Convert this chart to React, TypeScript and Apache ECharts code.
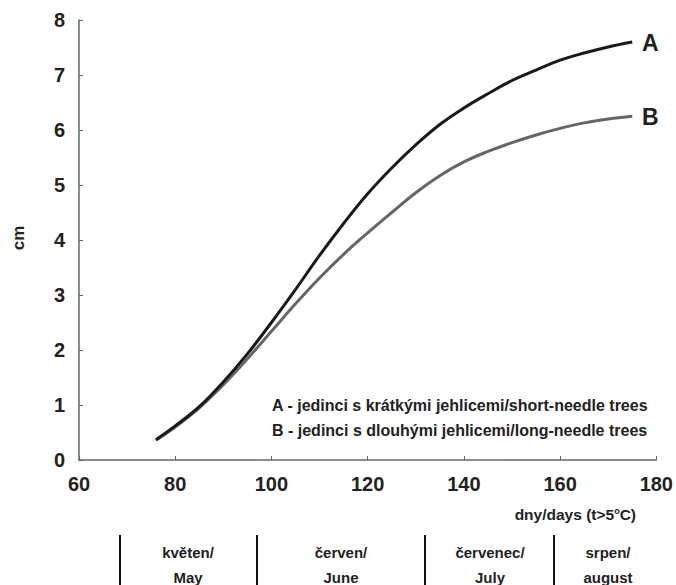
import React, { useEffect, useRef } from "react";
import * as echarts from "echarts";

const days = [76, 80, 85, 90, 95, 100, 105, 110, 115, 120, 125, 130, 135, 140, 145, 150, 155, 160, 165, 170, 175];
const seriesA = [0.37, 0.62, 0.97, 1.42, 1.93, 2.5, 3.1, 3.72, 4.3, 4.84, 5.31, 5.73, 6.1, 6.4, 6.66, 6.9, 7.09, 7.27, 7.4, 7.51, 7.6];
const seriesB = [0.36, 0.6, 0.95, 1.37, 1.84, 2.34, 2.84, 3.31, 3.74, 4.13, 4.5, 4.86, 5.17, 5.42, 5.61, 5.77, 5.91, 6.03, 6.13, 6.2, 6.25];
const legendLines = [
  "A - jedinci s krátkými jehlicemi/short-needle trees",
  "B - jedinci s dlouhými jehlicemi/long-needle trees",
];
const months = [
  ["květen/", "May"],
  ["červen/", "June"],
  ["červenec/", "July"],
  ["srpen/", "august"],
];

const FONT = "Arial";
const txt = (size: number, extra: any = {}) => ({
  fontFamily: FONT,
  fontWeight: "bold",
  fontSize: size,
  fill: "#222",
  ...extra,
});

export default function App() {
  const ref = useRef<HTMLDivElement>(null);
  useEffect(() => {
    if (!ref.current) return;
    const chart = echarts.init(ref.current, undefined, { renderer: "svg" });
    const monthCenters = [188, 341, 490, 608];
    const sepX = [120, 257, 425, 554];
    const graphics: any[] = [];
    sepX.forEach((x) =>
      graphics.push({
        type: "line",
        shape: { x1: x, y1: 535, x2: x, y2: 585 },
        style: { stroke: "#111", lineWidth: 2 },
      })
    );
    months.forEach((m, i) => {
      graphics.push({
        type: "text",
        x: monthCenters[i],
        y: 552,
        style: txt(15, { text: m[0], align: "center", verticalAlign: "middle" }),
      });
      graphics.push({
        type: "text",
        x: monthCenters[i],
        y: 577,
        style: txt(15, { text: m[1], align: "center", verticalAlign: "middle" }),
      });
    });
    legendLines.forEach((t, i) =>
      graphics.push({
        type: "text",
        x: 272,
        y: 405 + i * 25,
        z: 2,
        style: txt(16, { text: t, verticalAlign: "middle" }),
      })
    );
    graphics.push({
      type: "text",
      x: 642,
      y: 43,
      style: txt(23, { text: "A", verticalAlign: "middle" }),
    });
    graphics.push({
      type: "text",
      x: 642,
      y: 117,
      style: txt(23, { text: "B", verticalAlign: "middle" }),
    });
    graphics.push({
      type: "text",
      x: 18,
      y: 238,
      rotation: Math.PI / 2,
      style: txt(17, { text: "cm", align: "center", verticalAlign: "middle" }),
    });
    graphics.push({
      type: "text",
      x: 636,
      y: 514,
      style: txt(15.5, {
        text: "dny/days (t>5{s|o}C)",
        align: "right",
        verticalAlign: "middle",
        rich: { s: { fontFamily: FONT, fontWeight: "bold", fontSize: 9, fill: "#222", verticalAlign: "top", padding: [0, 0, 7, 0] } },
      }),
    });

    chart.setOption({
      animation: false,
      backgroundColor: "#fff",
      grid: { left: 79, right: 17, top: 20, bottom: 125, containLabel: false },
      xAxis: {
        type: "value",
        min: 60,
        max: 180,
        interval: 20,
        axisLine: { show: true, lineStyle: { color: "#666", width: 1.5 } },
        axisTick: { show: true, inside: true, length: 4, lineStyle: { color: "#666" } },
        splitLine: { show: false },
        axisLabel: { fontFamily: FONT, fontWeight: "bold", fontSize: 20, color: "#222", margin: 14 },
      },
      yAxis: {
        type: "value",
        min: 0,
        max: 8,
        interval: 1,
        axisLine: { show: true, lineStyle: { color: "#666", width: 1.5 } },
        axisTick: { show: true, inside: true, length: 4, lineStyle: { color: "#666" } },
        splitLine: { show: false },
        axisLabel: { fontFamily: FONT, fontWeight: "bold", fontSize: 20, color: "#222", margin: 14 },
      },
      series: [
        {
          type: "line",
          name: "A",
          data: days.map((d, i) => [d, seriesA[i]]),
          smooth: 0.4,
          showSymbol: false,
          lineStyle: { color: "#1a1a1a", width: 3 },
          z: 3,
        },
        {
          type: "line",
          name: "B",
          data: days.map((d, i) => [d, seriesB[i]]),
          smooth: 0.4,
          showSymbol: false,
          lineStyle: { color: "#666", width: 3 },
          z: 2,
        },
      ],
      graphic: graphics,
    });
    return () => chart.dispose();
  }, []);
  return <div ref={ref} style={{ width: 676, height: 585, position: "absolute", left: 0, top: 0 }} />;
}
